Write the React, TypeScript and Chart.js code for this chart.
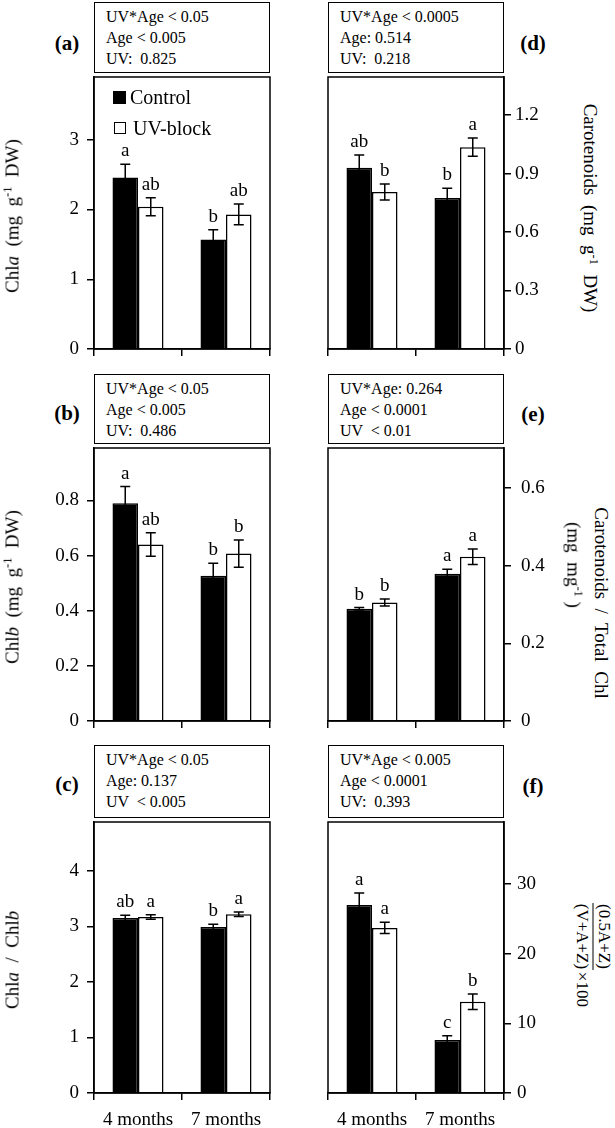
import React, { useEffect, useRef } from 'react';
import { Chart, registerables } from 'chart.js';

Chart.register(...registerables);

const FONT = "'Liberation Serif', 'Times New Roman', serif";

// ---------- data ----------
const categories = ['4 months', '7 months'];
const seriesNames = ['Control', 'UV-block'];

// (a) Chl a
const chlaControl = [2.46, 1.57];
const chlaControlErr = [0.19, 0.14];
const chlaUV = [2.04, 1.93];
const chlaUVErr = [0.13, 0.15];
const chlaLettersControl = ['a', 'b'];
const chlaLettersUV = ['ab', 'ab'];
const chlaTicks = [0, 1, 2, 3];
const chlaMax = 3.9;
const chlaStats = ['UV*Age < 0.05', 'Age < 0.005', 'UV:  0.825'];

// (b) Chl b
const chlbControl = [0.79, 0.527];
const chlbControlErr = [0.06, 0.045];
const chlbUV = [0.64, 0.607];
const chlbUVErr = [0.043, 0.049];
const chlbLettersControl = ['a', 'b'];
const chlbLettersUV = ['ab', 'b'];
const chlbTicks = [0, 0.2, 0.4, 0.6, 0.8];
const chlbMax = 0.99;
const chlbStats = ['UV*Age < 0.05', 'Age < 0.005', 'UV:  0.486'];

// (c) Chl a / Chl b
const ratioControl = [3.15, 2.99];
const ratioControlErr = [0.05, 0.05];
const ratioUV = [3.17, 3.22];
const ratioUVErr = [0.04, 0.04];
const ratioLettersControl = ['ab', 'b'];
const ratioLettersUV = ['a', 'a'];
const ratioTicks = [0, 1, 2, 3, 4];
const ratioMax = 4.88;
const ratioStats = ['UV*Age < 0.05', 'Age: 0.137', 'UV  < 0.005'];

// (d) Carotenoids
const carControl = [0.93, 0.774];
const carControlErr = [0.065, 0.05];
const carUV = [0.805, 1.035];
const carUVErr = [0.041, 0.047];
const carLettersControl = ['ab', 'b'];
const carLettersUV = ['b', 'a'];
const carTicks = [0, 0.3, 0.6, 0.9, 1.2];
const carMax = 1.395;
const carStats = ['UV*Age < 0.0005', 'Age: 0.514', 'UV:  0.218'];

// (e) Carotenoids / total Chl
const carChlControl = [0.289, 0.379];
const carChlControlErr = [0.003, 0.012];
const carChlUV = [0.305, 0.423];
const carChlUVErr = [0.009, 0.02];
const carChlLettersControl = ['b', 'a'];
const carChlLettersUV = ['b', 'a'];
const carChlTicks = [0, 0.2, 0.4, 0.6];
const carChlMax = 0.703;
const carChlStats = ['UV*Age: 0.264', 'Age < 0.0001', 'UV  < 0.01'];

// (f) de-epoxidation state
const depsControl = [27.0, 7.6];
const depsControlErr = [1.7, 0.6];
const depsUV = [23.7, 13.1];
const depsUVErr = [0.8, 1.1];
const depsLettersControl = ['a', 'c'];
const depsLettersUV = ['a', 'b'];
const depsTicks = [0, 10, 20, 30];
const depsMax = 38.9;
const depsStats = ['UV*Age < 0.005', 'Age < 0.0001', 'UV:  0.393'];

// ---------- chart panel ----------
type PanelProps = {
  ctrl: number[]; ctrlErr: number[]; uv: number[]; uvErr: number[];
  ctrlLetters: string[]; uvLetters: string[];
  ticks: number[]; max: number;
  side: 'left' | 'right'; showX: boolean;
  x: number; y: number; w: number; h: number;
  yw: number; xh: number;
  pad: { left: number; right: number; top: number; bottom: number };
  tickPad: number;
};

function BarPanel(p: PanelProps) {
  const ref = useRef<HTMLCanvasElement>(null);
  useEffect(() => {
    const sets = [
      { vals: p.ctrl, errs: p.ctrlErr, letters: p.ctrlLetters },
      { vals: p.uv, errs: p.uvErr, letters: p.uvLetters },
    ];
    const errorPlugin = {
      id: 'errs',
      afterDatasetsDraw(chart: any) {
        const ctx = chart.ctx;
        const ys = chart.scales.y;
        sets.forEach((s, di) => {
          const meta = chart.getDatasetMeta(di);
          meta.data.forEach((bar: any, i: number) => {
            const v = s.vals[i], e = s.errs[i];
            const yt = ys.getPixelForValue(v + e);
            const yb = ys.getPixelForValue(v - e);
            ctx.save();
            ctx.strokeStyle = '#000';
            ctx.lineWidth = 1.5;
            ctx.beginPath();
            ctx.moveTo(bar.x, yt); ctx.lineTo(bar.x, yb);
            ctx.moveTo(bar.x - 5, yt); ctx.lineTo(bar.x + 5, yt);
            ctx.moveTo(bar.x - 5, yb); ctx.lineTo(bar.x + 5, yb);
            ctx.stroke();
            ctx.fillStyle = '#000';
            ctx.font = `19px ${FONT}`;
            ctx.textAlign = 'center';
            ctx.textBaseline = 'alphabetic';
            ctx.fillText(s.letters[i], bar.x, yt - 8);
            ctx.restore();
          });
        });
      },
    };
    const framePlugin = {
      id: 'frame',
      afterDraw(chart: any) {
        const a = chart.chartArea;
        const ctx = chart.ctx;
        ctx.save();
        ctx.strokeStyle = '#000';
        ctx.lineWidth = 1.5;
        ctx.strokeRect(a.left, a.top, a.right - a.left, a.bottom - a.top);
        ctx.restore();
      },
    };
    const chart = new Chart(ref.current as HTMLCanvasElement, {
      type: 'bar',
      data: {
        labels: categories,
        datasets: [
          { label: seriesNames[0], data: p.ctrl, backgroundColor: '#000', borderColor: '#000', borderWidth: 1.5, categoryPercentage: 0.58, barPercentage: 1 },
          { label: seriesNames[1], data: p.uv, backgroundColor: '#fff', borderColor: '#000', borderWidth: 1.5, categoryPercentage: 0.58, barPercentage: 1 },
        ],
      },
      options: {
        animation: false,
        responsive: false,
        maintainAspectRatio: false,
        devicePixelRatio: 1,
        layout: { padding: p.pad },
        plugins: { legend: { display: false }, tooltip: { enabled: false } },
        scales: {
          x: {
            offset: true,
            grid: { offset: true, drawOnChartArea: false, drawTicks: true, tickLength: 7, color: '#000', lineWidth: 1.5 },
            border: { display: true, color: '#000', width: 1.5 },
            ticks: { display: p.showX, color: '#000', font: { family: FONT, size: 19 }, padding: 9, maxRotation: 0, autoSkip: false },
            afterFit: (s: any) => { s.height = p.xh; },
          },
          y: {
            position: p.side,
            min: 0,
            max: p.max,
            afterBuildTicks: (s: any) => { s.ticks = p.ticks.map((v) => ({ value: v })); },
            afterFit: (s: any) => { s.width = p.yw; },
            grid: { drawOnChartArea: false, drawTicks: true, tickLength: 7, color: '#000', lineWidth: 1.5 },
            border: { display: true, color: '#000', width: 1.5 },
            ticks: { color: '#000', font: { family: FONT, size: 19 }, padding: p.tickPad, callback: (v: any) => String(v) },
          },
        },
      } as any,
      plugins: [errorPlugin, framePlugin],
    });
    return () => chart.destroy();
  }, []);
  return (
    <canvas
      ref={ref}
      width={p.w}
      height={p.h}
      style={{ position: 'absolute', left: p.x, top: p.y, width: p.w, height: p.h }}
    />
  );
}

function StatsBox({ x, y, w, h, lines }: { x: number; y: number; w: number; h: number; lines: string[] }) {
  return (
    <div style={{ position: 'absolute', left: x, top: y, width: w, height: h, boxSizing: 'border-box', border: '1.5px solid #000', padding: '3px 0 0 11px', fontSize: 16, lineHeight: '21px', whiteSpace: 'pre' }}>
      {lines.map((l, i) => <div key={i}>{l}</div>)}
    </div>
  );
}

function PanelTag({ cx, cy, text }: { cx: number; cy: number; text: string }) {
  return (
    <div style={{ position: 'absolute', left: cx, top: cy, transform: 'translate(-50%,-50%)', fontWeight: 'bold', fontSize: 21, lineHeight: 1, whiteSpace: 'nowrap' }}>{text}</div>
  );
}

function RotLabel({ cx, cy, deg, size = 19, children }: { cx: number; cy: number; deg: number; size?: number; children: any }) {
  return (
    <div style={{ position: 'absolute', left: cx, top: cy, transform: `translate(-50%,-50%) rotate(${deg}deg)`, whiteSpace: 'pre', fontSize: size, lineHeight: 1 }}>{children}</div>
  );
}

const Sup = ({ t }: { t: string }) => (
  <span style={{ fontSize: '0.65em', verticalAlign: '0.55em', lineHeight: 0 }}>{t}</span>
);

const LEFT = { x: 20, w: 260, yw: 74, pad0: { left: 0, right: 10 } };
const RIGHT = { x: 318, w: 246, yw: 60, pad0: { left: 10, right: 0 } };

export default function App() {
  return (
    <div style={{ position: 'absolute', left: 0, top: 0, width: 615, height: 1128, overflow: 'hidden', background: '#fff', fontFamily: FONT, color: '#000' }}>
      {/* Row 1 */}
      <StatsBox x={94} y={2} w={176} h={71} lines={chlaStats} />
      <StatsBox x={328} y={2} w={176} h={71} lines={carStats} />
      <PanelTag cx={67} cy={43} text="(a)" />
      <PanelTag cx={533} cy={43} text="(d)" />
      <BarPanel ctrl={chlaControl} ctrlErr={chlaControlErr} uv={chlaUV} uvErr={chlaUVErr}
        ctrlLetters={chlaLettersControl} uvLetters={chlaLettersUV} ticks={chlaTicks} max={chlaMax}
        side="left" showX={false} x={LEFT.x} y={53} w={LEFT.w} h={320} yw={LEFT.yw} xh={12}
        pad={{ ...LEFT.pad0, top: 24, bottom: 12 }} tickPad={8} />
      <BarPanel ctrl={carControl} ctrlErr={carControlErr} uv={carUV} uvErr={carUVErr}
        ctrlLetters={carLettersControl} uvLetters={carLettersUV} ticks={carTicks} max={carMax}
        side="right" showX={false} x={RIGHT.x} y={53} w={RIGHT.w} h={320} yw={RIGHT.yw} xh={12}
        pad={{ ...RIGHT.pad0, top: 24, bottom: 12 }} tickPad={4} />
      {/* legend */}
      <div style={{ position: 'absolute', left: 113, top: 91, width: 13, height: 13, background: '#000' }} />
      <div style={{ position: 'absolute', left: 130, top: 86, fontSize: 20, lineHeight: '22px' }}>{seriesNames[0]}</div>
      <div style={{ position: 'absolute', left: 114, top: 122, width: 12, height: 12, boxSizing: 'border-box', border: '1.5px solid #000', background: '#fff' }} />
      <div style={{ position: 'absolute', left: 133, top: 117, fontSize: 20, lineHeight: '22px' }}>{seriesNames[1]}</div>
      <RotLabel cx={12} cy={216} deg={-90}>Chl<i>a</i>  (mg  g<Sup t="-1" />  DW)</RotLabel>
      <RotLabel cx={590} cy={208} deg={90}>Carotenoids  (mg  g<Sup t="-1" />  DW)</RotLabel>

      {/* Row 2 */}
      <StatsBox x={94} y={374} w={176} h={70} lines={chlbStats} />
      <StatsBox x={328} y={374} w={176} h={70} lines={carChlStats} />
      <PanelTag cx={67} cy={413} text="(b)" />
      <PanelTag cx={533} cy={414} text="(e)" />
      <BarPanel ctrl={chlbControl} ctrlErr={chlbControlErr} uv={chlbUV} uvErr={chlbUVErr}
        ctrlLetters={chlbLettersControl} uvLetters={chlbLettersUV} ticks={chlbTicks} max={chlbMax}
        side="left" showX={false} x={LEFT.x} y={424} w={LEFT.w} h={321} yw={LEFT.yw} xh={12}
        pad={{ ...LEFT.pad0, top: 24, bottom: 12 }} tickPad={8} />
      <BarPanel ctrl={carChlControl} ctrlErr={carChlControlErr} uv={carChlUV} uvErr={carChlUVErr}
        ctrlLetters={carChlLettersControl} uvLetters={carChlLettersUV} ticks={carChlTicks} max={carChlMax}
        side="right" showX={false} x={RIGHT.x} y={424} w={RIGHT.w} h={321} yw={RIGHT.yw} xh={12}
        pad={{ ...RIGHT.pad0, top: 24, bottom: 12 }} tickPad={10} />
      <RotLabel cx={12} cy={587} deg={-90}>Chl<i>b</i>  (mg  g<Sup t="-1" />  DW)</RotLabel>
      <RotLabel cx={601} cy={603} deg={90}>Carotenoids  /  Total  Chl</RotLabel>
      <RotLabel cx={574} cy={565} deg={90}>(mg  mg<Sup t="-1" /> )</RotLabel>

      {/* Row 3 */}
      <StatsBox x={94} y={745} w={176} h={73} lines={ratioStats} />
      <StatsBox x={328} y={745} w={176} h={73} lines={depsStats} />
      <PanelTag cx={67} cy={784} text="(c)" />
      <PanelTag cx={533} cy={786} text="(f)" />
      <BarPanel ctrl={ratioControl} ctrlErr={ratioControlErr} uv={ratioUV} uvErr={ratioUVErr}
        ctrlLetters={ratioLettersControl} uvLetters={ratioLettersUV} ticks={ratioTicks} max={ratioMax}
        side="left" showX={true} x={LEFT.x} y={798} w={LEFT.w} h={330} yw={LEFT.yw} xh={35}
        pad={{ ...LEFT.pad0, top: 24, bottom: 0 }} tickPad={8} />
      <BarPanel ctrl={depsControl} ctrlErr={depsControlErr} uv={depsUV} uvErr={depsUVErr}
        ctrlLetters={depsLettersControl} uvLetters={depsLettersUV} ticks={depsTicks} max={depsMax}
        side="right" showX={true} x={RIGHT.x} y={798} w={RIGHT.w} h={330} yw={RIGHT.yw} xh={35}
        pad={{ ...RIGHT.pad0, top: 24, bottom: 0 }} tickPad={6} />
      <RotLabel cx={12} cy={960} deg={-90}>Chl<i>a</i>  /  Chl<i>b</i></RotLabel>
      <RotLabel cx={593} cy={955} deg={90} size={17}>
        <div style={{ display: 'flex', alignItems: 'flex-end' }}>
          <div style={{ display: 'flex', flexDirection: 'column', alignItems: 'center' }}>
            <span style={{ padding: '0 1px 2px' }}>(0.5A+Z)</span>
            <div style={{ borderTop: '1.5px solid #000', alignSelf: 'stretch' }} />
            <span style={{ paddingTop: 2 }}>(V+A+Z)</span>
          </div>
          <span style={{ marginLeft: 2 }}>×100</span>
        </div>
      </RotLabel>
    </div>
  );
}
